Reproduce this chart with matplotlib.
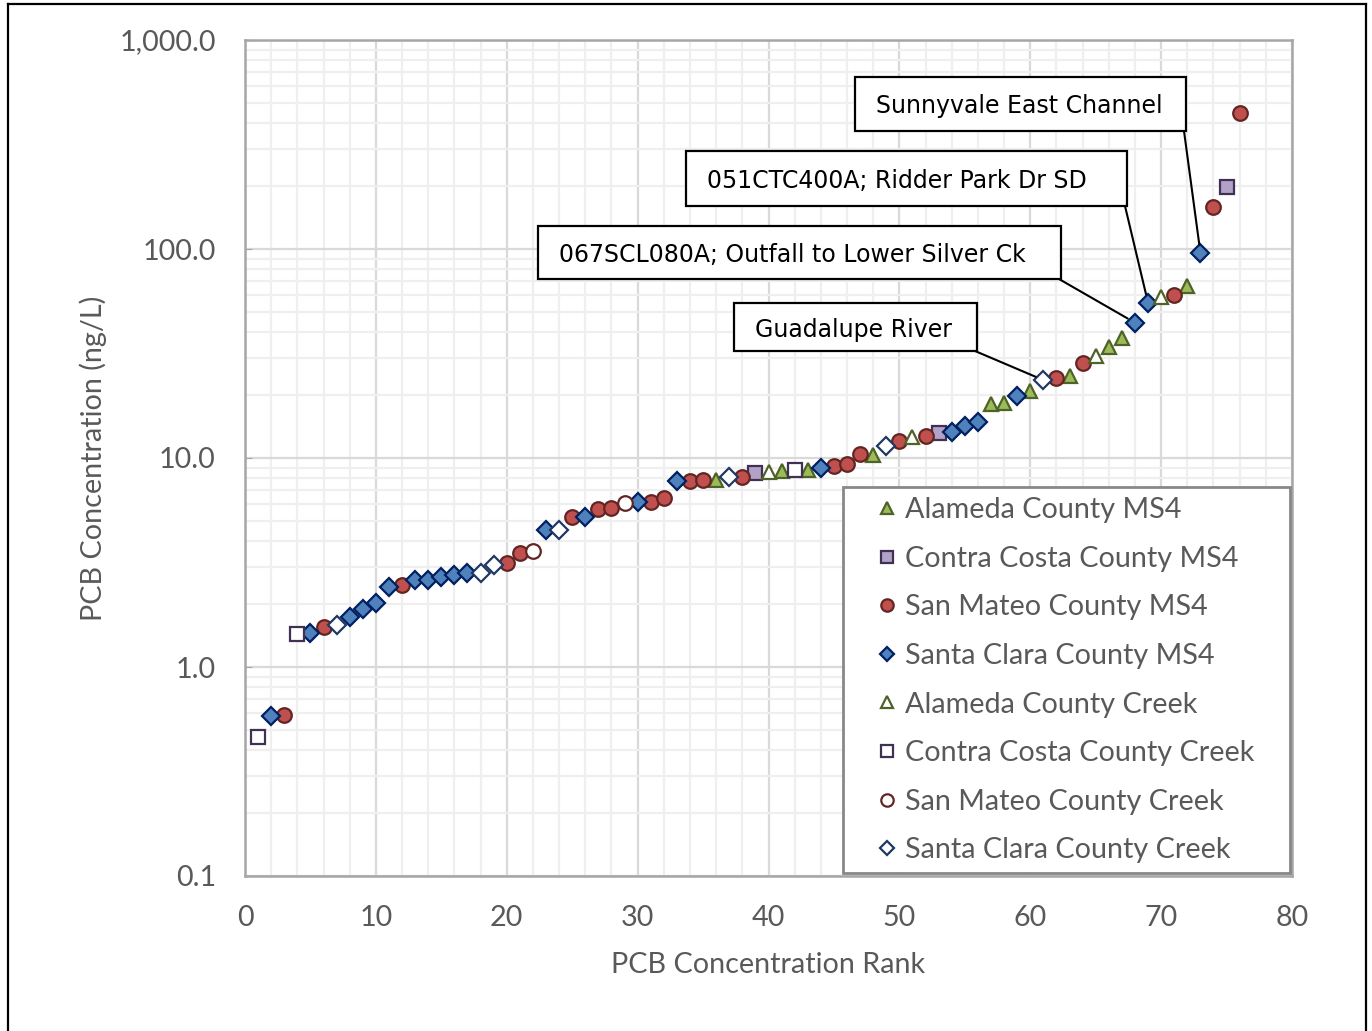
import matplotlib
matplotlib.use("Agg")
import matplotlib.pyplot as plt
from matplotlib.patches import Rectangle
from matplotlib.lines import Line2D
from matplotlib.ticker import FixedLocator, FixedFormatter, LogLocator, MultipleLocator, NullFormatter

# ---------------- data ----------------
alameda_ms4_rank = [36, 41, 43, 48, 57, 58, 60, 63, 66, 67, 72]
alameda_ms4_val = [7.86, 8.7, 8.8, 10.3, 18.1, 18.3, 21.0, 24.8, 34.1, 37.4, 66.5]

contra_ms4_rank = [39, 53, 75]
contra_ms4_val = [8.51, 13.2, 197]

sanmateo_ms4_rank = [3, 6, 12, 20, 21, 25, 27, 28, 31, 32, 34, 35, 38, 45, 46, 47, 50, 52, 62, 64, 71, 74, 76]
sanmateo_ms4_val = [0.59, 1.56, 2.47, 3.16, 3.5, 5.24, 5.68, 5.75, 6.17, 6.46, 7.79, 7.86, 8.14,
                    9.15, 9.36, 10.4, 12.1, 12.8, 24.2, 28.4, 60.2, 159, 449]

santaclara_ms4_rank = [2, 5, 8, 9, 10, 11, 13, 14, 15, 16, 17, 23, 26, 30, 33, 44, 54, 55, 56, 59, 68, 69, 73]
santaclara_ms4_val = [0.58, 1.45, 1.74, 1.89, 2.03, 2.41, 2.61, 2.61, 2.7, 2.75, 2.83, 4.52, 5.24,
                      6.17, 7.79, 8.93, 13.3, 14.3, 14.9, 19.9, 44.4, 55.3, 96]

alameda_creek_rank = [40, 51, 65, 70]
alameda_creek_val = [8.6, 12.6, 30.8, 58.7]

contra_creek_rank = [1, 4, 42]
contra_creek_val = [0.46, 1.44, 8.75]

sanmateo_creek_rank = [22, 29]
sanmateo_creek_val = [3.59, 6.11]

santaclara_creek_rank = [7, 18, 19, 24, 37, 49, 61]
santaclara_creek_val = [1.58, 2.81, 3.08, 4.52, 8.14, 11.4, 23.6]

series_names = ["Alameda County MS4", "Contra Costa County MS4", "San Mateo County MS4",
                "Santa Clara County MS4", "Alameda County Creek", "Contra Costa County Creek",
                "San Mateo County Creek", "Santa Clara County Creek"]

y_ticks = [0.1, 1, 10, 100, 1000]
y_tick_labels = ["0.1", "1.0", "10.0", "100.0", "1,000.0"]
x_ticks = [0, 10, 20, 30, 40, 50, 60, 70, 80]

callout_labels = ["Sunnyvale East Channel", "051CTC400A; Ridder Park Dr SD",
                  "067SCL080A; Outfall to Lower Silver Ck", "Guadalupe River"]
callout_ranks = [73, 69, 68, 61]
callout_vals = [96, 55.3, 44.4, 23.6]

# ---------------- figure ----------------
W, H = 1372, 1031
fig = plt.figure(figsize=(W / 100, H / 100), dpi=100)
ax = fig.add_axes([245 / W, 1 - 876 / H, (1292 - 245) / W, (876 - 40) / H])

FONT = "Lato"
TXT = "#595959"
FS = 20.7

styles = [
    dict(marker="^", ms=10.5, mfc="#9bbb59", mec="#4f6228"),
    dict(marker="s", ms=10, mfc="#b3a2c7", mec="#403152"),
    dict(marker="o", ms=10.5, mfc="#c0504d", mec="#632523"),
    dict(marker="D", ms=8.7, mfc="#4f81bd", mec="#002060"),
    dict(marker="^", ms=10.5, mfc="white", mec="#4f6228"),
    dict(marker="s", ms=10, mfc="white", mec="#403152"),
    dict(marker="o", ms=10.5, mfc="white", mec="#632523"),
    dict(marker="D", ms=8.7, mfc="white", mec="#1f3864"),
]
data = [
    (alameda_ms4_rank, alameda_ms4_val),
    (contra_ms4_rank, contra_ms4_val),
    (sanmateo_ms4_rank, sanmateo_ms4_val),
    (santaclara_ms4_rank, santaclara_ms4_val),
    (alameda_creek_rank, alameda_creek_val),
    (contra_creek_rank, contra_creek_val),
    (sanmateo_creek_rank, sanmateo_creek_val),
    (santaclara_creek_rank, santaclara_creek_val),
]
for (r, v), st, name in zip(data, styles, series_names):
    ax.plot(r, v, linestyle="none", mew=1.6, label=name, zorder=3, **st)

ax.set_yscale("log")
ax.set_xlim(0, 80)
ax.set_ylim(0.1, 1000)

ax.xaxis.set_major_locator(FixedLocator(x_ticks))
ax.xaxis.set_minor_locator(MultipleLocator(2))
ax.yaxis.set_major_locator(FixedLocator(y_ticks))
ax.yaxis.set_major_formatter(FixedFormatter(y_tick_labels))
ax.yaxis.set_minor_locator(LogLocator(base=10, subs=range(2, 10)))
ax.yaxis.set_minor_formatter(NullFormatter())

ax.grid(which="major", color="#d9d9d9", lw=1.6, zorder=0)
ax.grid(which="minor", color="#efefef", lw=1.6, zorder=0)
ax.set_axisbelow(True)

for s in ax.spines.values():
    s.set_color("#a6a6a6")
    s.set_linewidth(1.8)

ax.tick_params(axis="both", which="minor", length=0)
ax.tick_params(axis="y", which="major", direction="in", length=5, color="#a6a6a6", pad=21,
               labelsize=FS, labelcolor=TXT)
ax.tick_params(axis="x", which="major", length=0, pad=21, labelsize=FS, labelcolor=TXT)
for lab in ax.get_xticklabels() + ax.get_yticklabels():
    lab.set_fontfamily(FONT)

ax.set_xlabel("PCB Concentration Rank", fontsize=FS, color=TXT, family=FONT, va="center")
ax.xaxis.set_label_coords(0.5, (876 - 965) / 836)
ax.set_ylabel("PCB Concentration (ng/L)", fontsize=FS, color=TXT, family=FONT, va="center")
ax.yaxis.set_label_coords((93 - 245) / 1047, 0.5)

# legend box in axes fraction: x 843-1290, y 485-873 (image px)
lx0 = (843 - 245) / 1047
lw_ = (1290 - 843) / 1047
ly0 = (876 - 873) / 836
lh_ = (873 - 485) / 836
fs_px = FS * 100 / 72
leg = ax.legend(loc="lower left", bbox_to_anchor=(lx0, ly0, lw_, lh_), mode="expand",
                borderaxespad=0, frameon=True, fancybox=False, framealpha=1,
                edgecolor="#888888", prop=dict(family=FONT, size=FS), labelcolor=TXT,
                markerscale=0.85, handlelength=68 / fs_px, handletextpad=-16 / fs_px,
                labelspacing=0.785, borderpad=0.34, numpoints=1)
leg.get_frame().set_linewidth(2)
leg.set_zorder(5)

# ---------------- callouts ----------------
boxes = [  # (x0, y0, x1, y1) in image pixels
    (855, 77, 1186, 131),
    (686, 151, 1127, 206),
    (538, 226, 1061, 279),
    (734, 303, 977, 351),
]
for lab, r, v, (x0, y0, x1, y1) in zip(callout_labels, callout_ranks, callout_vals, boxes):
    ax.annotate("", xy=(r, v), xycoords="data", xytext=(x1 - 2, H - y1), textcoords="figure pixels",
                arrowprops=dict(arrowstyle="-", color="black", lw=1.5, shrinkA=0, shrinkB=6),
                zorder=4)
    rect = Rectangle((x0 / W, 1 - y1 / H), (x1 - x0) / W, (y1 - y0) / H, transform=fig.transFigure,
                     facecolor="white", edgecolor="black", lw=1.6, zorder=6)
    fig.add_artist(rect)
    fig.text((x0 + 21) / W, 1 - (y0 + y1) / 2 / H, lab, ha="left", va="center_baseline",
             fontsize=17, family="DejaVu Sans", color="black", zorder=7)

# outer frame
for (xa, ya, xb, yb) in [(8, 4, 8, 1031), (8, 4, 1366, 4), (1366, 4, 1366, 1031)]:
    fig.add_artist(Line2D([xa / W, xb / W], [1 - ya / H, 1 - yb / H], transform=fig.transFigure,
                          color="black", lw=1.6))

fig.savefig("out.png", dpi=100)
